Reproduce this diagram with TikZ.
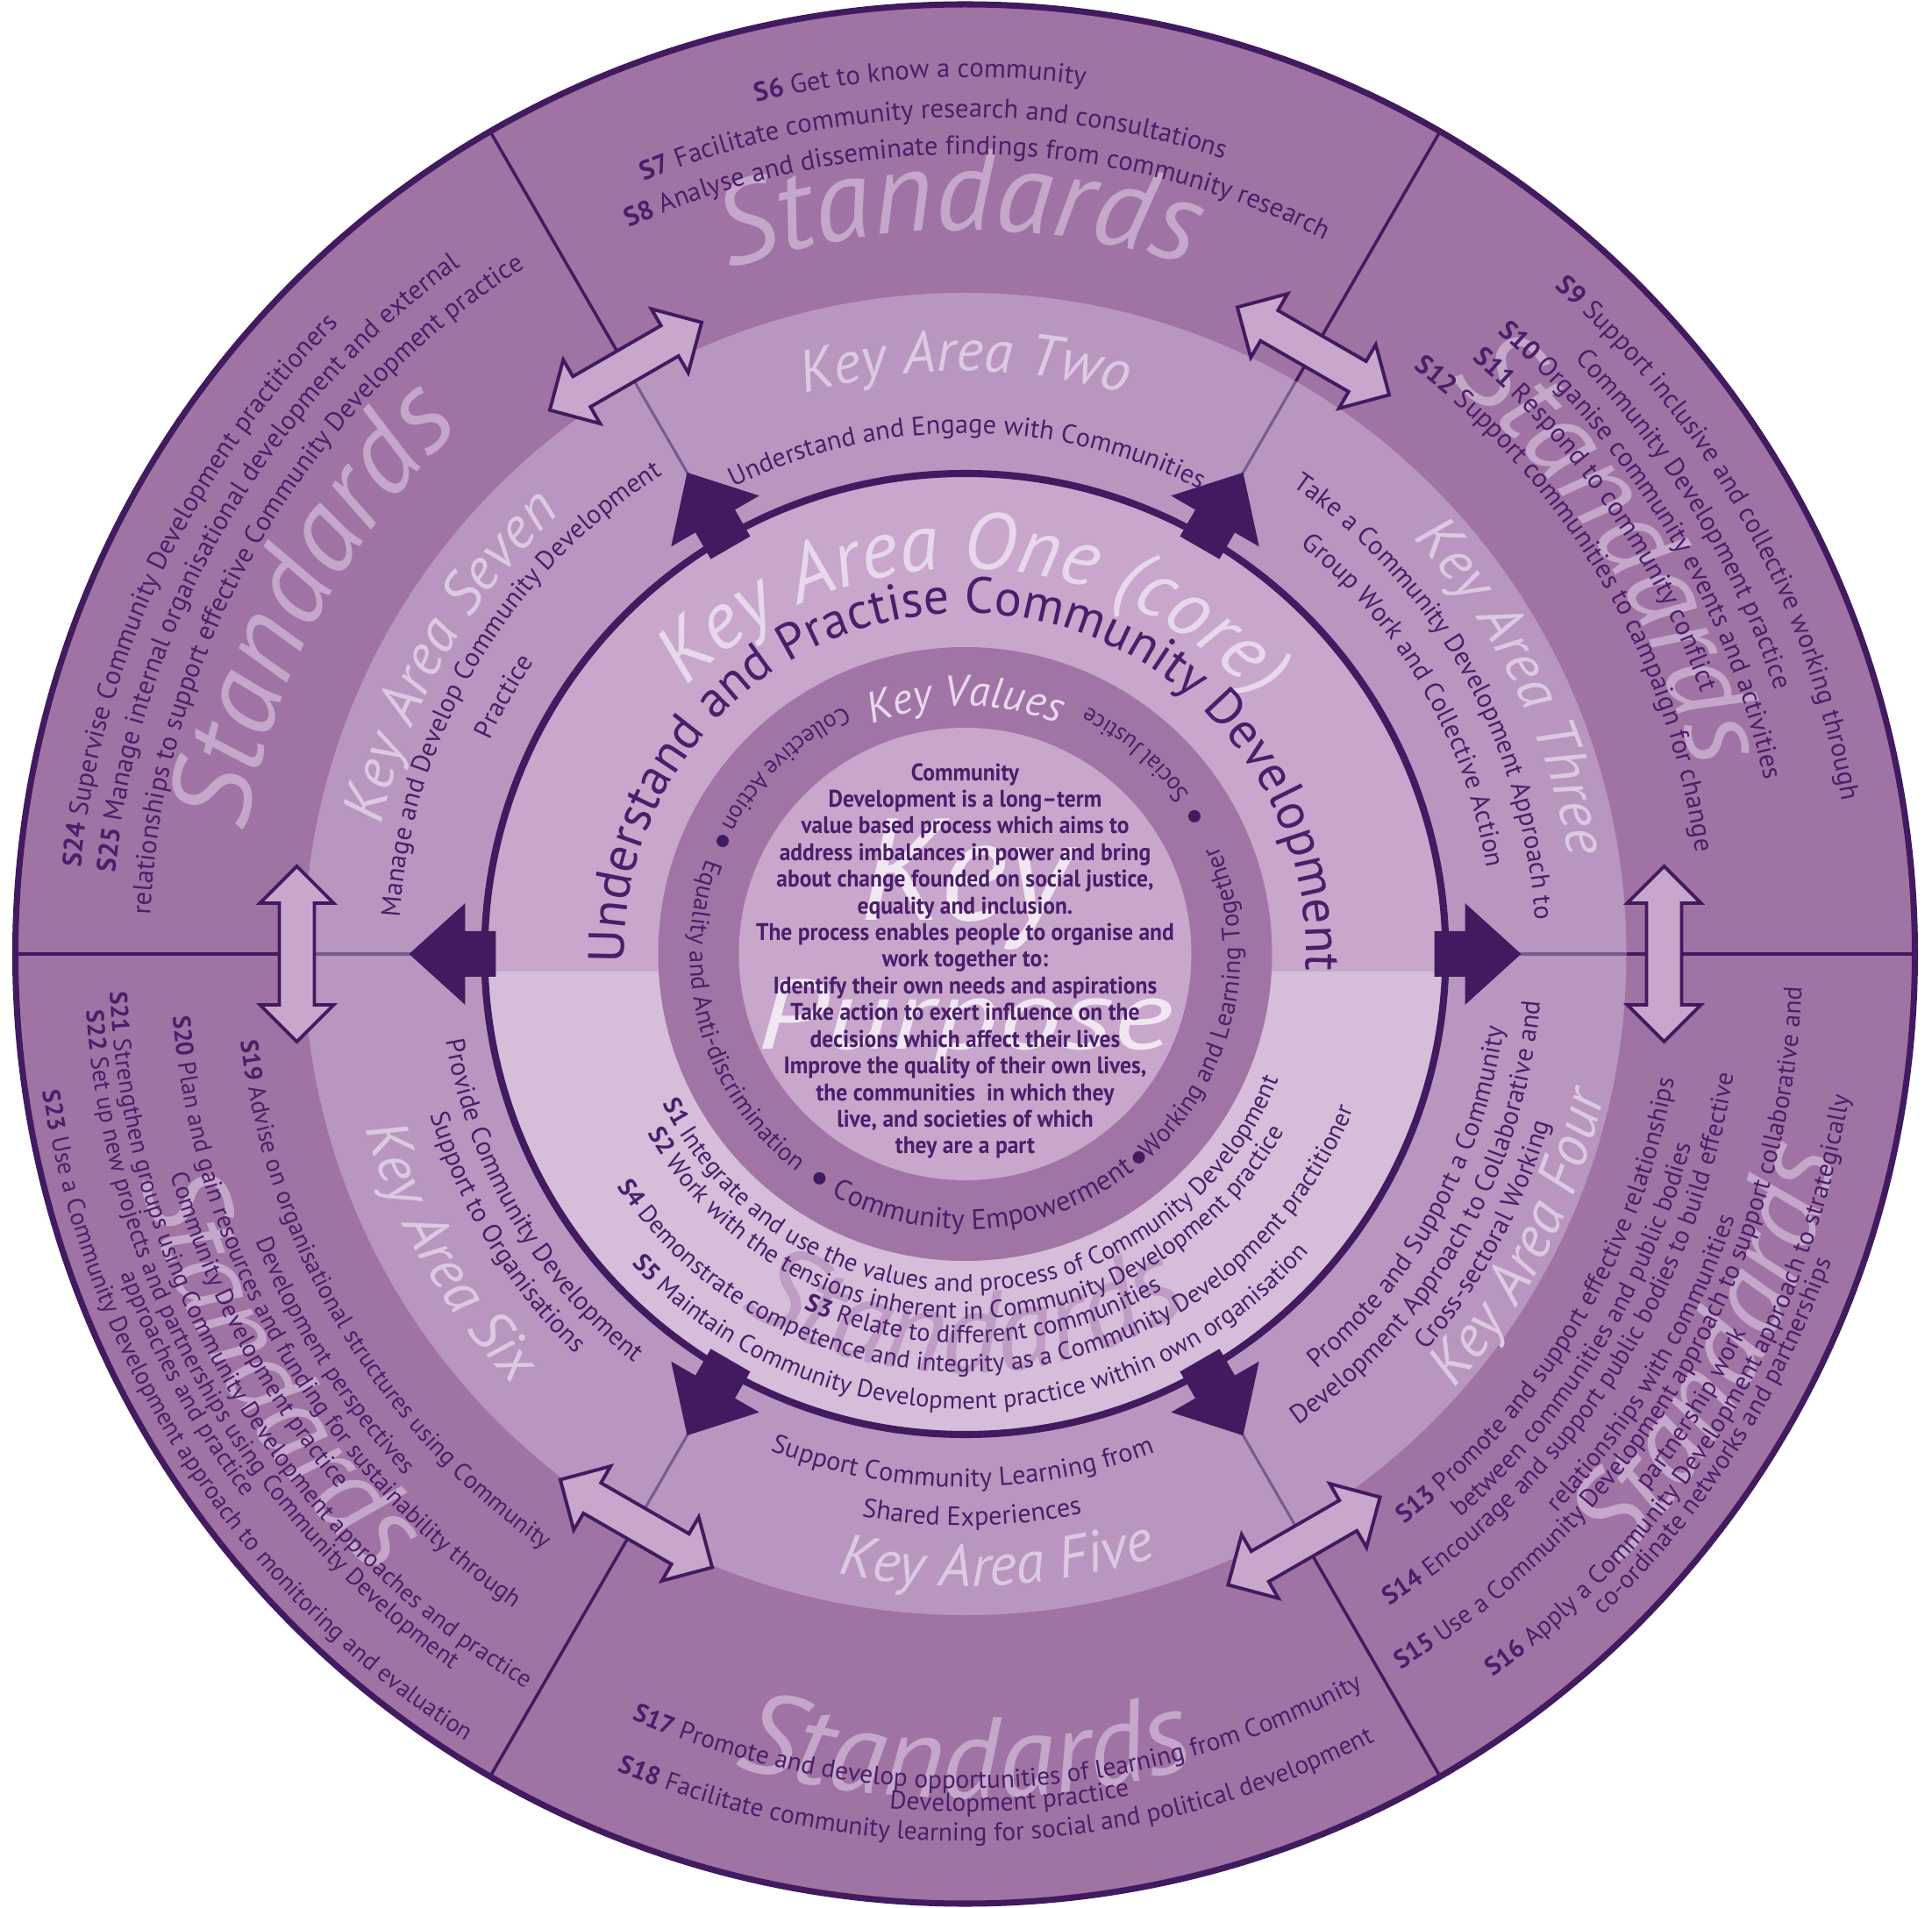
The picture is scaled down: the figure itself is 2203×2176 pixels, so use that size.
\documentclass[tikz,border=0pt]{standalone}
\usepackage{fontspec}
\usepackage{graphicx}
\setmainfont{PT Sans}
\newfontfamily\condfont[FakeStretch=0.93]{PT Sans}
\usetikzlibrary{decorations.text}
\definecolor{ringS}{HTML}{9F73A3}
\definecolor{ringK}{HTML}{B996BF}
\definecolor{coreT}{HTML}{C9A6CC}
\definecolor{coreB}{HTML}{D6BDD9}
\definecolor{ringV}{HTML}{A075A5}
\definecolor{dark}{HTML}{421A60}
\definecolor{txt}{HTML}{4A1E6A}
\definecolor{wmS}{HTML}{C4A7CA}
\definecolor{wmK}{HTML}{DCC9E2}
\definecolor{wmOne}{HTML}{E7D8EB}
\definecolor{wmP}{HTML}{F0E7F2}
\definecolor{wmIn}{HTML}{BE9CC4}
\definecolor{kline}{HTML}{7B5B8F}
\definecolor{dbl}{HTML}{C9A6CC}
\newcommand\fsz[1]{\fontsize{#1}{#1}\selectfont}
% top, top-left, top-right standards
\newcommand\stdR{\fsz{8.7}\color{txt}}
\newcommand\stdB{\fsz{8.7}\bfseries\color{txt}}
% bottom and bottom-right standards
\newcommand\sbR{\fsz{8.35}\color{txt}}
\newcommand\sbB{\fsz{8.35}\bfseries\color{txt}}
% bottom-left standards
\newcommand\slR{\fsz{8.0}\color{txt}}
\newcommand\slB{\fsz{8.0}\bfseries\color{txt}}
% inner standards
\newcommand\inR{\fsz{8.1}\color{txt}}
\newcommand\inB{\fsz{8.1}\bfseries\color{txt}}
\newcommand\kdesc{\fsz{8.6}\color{txt}}
\newcommand\kval{\fsz{8.2}\color{txt}}
\newcommand\kvalS{\fsz{7.8}\color{txt}}
\newcommand\kvalL{\fsz{9.2}\color{txt}}
\newcommand\wmStd{\fsz{37.5}\itshape\color{wmS}}
\newcommand\wmKey{\fsz{19}\itshape\color{wmK}}
% clockwise arc (upper half, letters outward), centred
\newcommand\cwc[4]{\path[decorate,decoration={text along path,text align=center,text={|#3|#4}}] ({#2+100}:#1) arc[start angle={#2+100},end angle={#2-100},radius=#1];}
% counter-clockwise arc (lower half, letters inward), centred
\newcommand\ccwc[4]{\path[decorate,decoration={text along path,text align=center,text={|#3|#4}}] ({#2-100}:#1) arc[start angle={#2-100},end angle={#2+100},radius=#1];}
% text centred between a start and an end angle (direction from start to end)
\newcommand\fitarc[5]{%
  \pgfmathsetmacro\fcen{(#2+#3)/2}%
  \pgfmathsetmacro\fdir{(#3>#2)*2-1}%
  \path[decorate,decoration={text along path,text align=center,text={|#4|#5}}] ({\fcen-100*\fdir}:#1) arc[start angle={\fcen-100*\fdir},end angle={\fcen+100*\fdir},radius=#1];}
\begin{document}
\begin{tikzpicture}[x=0.01cm,y=0.01cm]
\fill[white] (-1100.5,-1088) rectangle (1102.5,1088);
\useasboundingbox (-1100.5,-1088) rectangle (1102.5,1088);
% rings
\fill[ringS] (0,0) circle[radius=1083];
\fill[ringK] (0,0) circle[radius=754];
\begin{scope}
\clip (0,0) circle[radius=548];
\fill[coreT] (-560,-20) rectangle (560,560);
\fill[coreB] (-560,-20) rectangle (560,-560);
\end{scope}
\fill[ringV] (0,0) circle[radius=350];
\fill[coreT] (0,0) circle[radius=258];
% sector lines
\foreach \a in {0,60,...,300}{
  \draw[dark,line width=1pt] (\a:754) -- (\a:1083);
  \draw[kline,line width=0.9pt] (\a:548) -- (\a:754);
}
% Standards watermarks
\cwc{826}{90.5}{\wmStd}{Standards}
\cwc{858}{32}{\wmStd}{Standards}
\cwc{832}{152}{\wmStd}{Standards}
\ccwc{1020}{-28}{\wmStd}{Standards}
\ccwc{963}{270}{\wmStd}{Standards}
\ccwc{975}{211}{\wmStd}{Standards}
\ccwc{478}{270}{\fsz{38}\itshape\color{wmIn}}{Standards}
% Key area watermarks
\cwc{665}{90}{\wmKey}{Key Area Two}
\cwc{697}{26}{\wmKey}{Key Area Three}
\ccwc{746}{-27}{\wmKey}{Key Area Four}
\ccwc{721}{273}{\wmKey}{Key Area Five}
\ccwc{712}{210}{\wmKey}{Key Area Six}
\cwc{682}{150}{\wmKey}{Key Area Seven}
% Key area descriptions
\fitarc{594}{116}{63.5}{\kdesc}{Understand and Engage with Communities}
\fitarc{651}{56.5}{2}{\kdesc}{Take a Community Development Approach to}
\fitarc{603}{52}{8}{\kdesc}{Group Work and Collective Action}
\fitarc{620}{-52}{-5.5}{\kdesc}{Promote and Support a Community}
\fitarc{658}{-57}{-2.5}{\kdesc}{Development Approach to Collaborative and}
\fitarc{694}{-41.8}{-15}{\kdesc}{Cross-sectoral Working}
\fitarc{608}{248.5}{291}{\kdesc}{Support Community Learning from}
\ccwc{652}{270.7}{\kdesc}{Shared Experiences}
\fitarc{600}{188}{232.5}{\kdesc}{Provide Community Development}
\fitarc{637}{196.5}{226}{\kdesc}{Support to Organisations}
\fitarc{646}{178}{120.5}{\kdesc}{Manage and Develop Community Development}
\cwc{594}{150.8}{\kdesc}{Practice}
% Standards: top
\fitarc{1000}{104.6}{81.3}{\stdB}{S6 |\stdR|Get to know a community}
\fitarc{954}{113.3}{71.2}{\stdB}{S7 |\stdR|Facilitate community research and consultations}
\fitarc{912}{115.7}{62.4}{\stdB}{S8 |\stdR|Analyse and disseminate findings from community research}
% top right
\fitarc{1015}{49.6}{8.8}{\stdB}{S9 |\stdR|Support inclusive and collective working through}
\fitarc{971}{45}{17.3}{\stdR}{Community Development practice}
\fitarc{933}{49.8}{11.9}{\stdB}{S10 |\stdR|Organise community events and activities}
\fitarc{891}{49.7}{19.4}{\stdB}{S11 |\stdR|Respond to community conflict}
\fitarc{841}{53.2}{7.3}{\stdB}{S12 |\stdR|Support communities to campaign for change}
% bottom right
\fitarc{821}{-52.1}{-10.3}{\sbB}{S13 |\sbR|Promote and support effective relationships}
\fitarc{856}{-49}{-14.4}{\sbR}{between communities and public bodies}
\fitarc{887}{-56.7}{-9.1}{\sbB}{S14 |\sbR|Encourage and support public bodies to build effective}
\fitarc{928}{-43.2}{-19.1}{\sbR}{relationships with communities}
\fitarc{955}{-59.3}{-1.7}{\sbB}{S15 |\sbR|Use a Community Development approach to support collaborative and}
\ccwc{990}{-32}{\sbR}{partnership work}
\fitarc{1021}{-56.8}{-6.2}{\sbB}{S16 |\sbR|Apply a Community Development approach to strategically}
\fitarc{1048}{-46.4}{-19.2}{\sbR}{co-ordinate networks and partnerships}
% bottom
\fitarc{952}{246.4}{298.5}{\sbB}{S17 |\sbR|Promote and develop opportunities of learning from Community}
\ccwc{978}{273}{\sbR}{Development practice}
\fitarc{1012}{247.2}{297.2}{\sbB}{S18 |\sbR|Facilitate community learning for social and political development}
% bottom left
\fitarc{832}{186.6}{235}{\slB}{S19 |\slR|Advise on organisational structures using Community}
\ccwc{873}{212.5}{\slR}{Development perspectives}
\fitarc{906}{184.2}{235.7}{\slB}{S20 |\slR|Plan and gain resources and funding for sustainability through}
\ccwc{940}{208}{\slR}{Community Development practice}
\fitarc{976}{182.2}{239.5}{\slB}{S21 |\slR|Strengthen groups using Community Development approaches and practice}
\fitarc{1004}{183.7}{234.3}{\slB}{S22 |\slR|Set up new projects and partnerships using Community Development}
\ccwc{1030}{208.9}{\slR}{approaches and practice}
\fitarc{1063}{188.4}{237.7}{\slB}{S23 |\slR|Use a Community Development approach to monitoring and evaluation}
% top left
\fitarc{1013}{175.2}{134.1}{\stdB}{S24 |\stdR|Supervise Community Development practitioners}
\fitarc{973}{175}{125.8}{\stdB}{S25 |\stdR|Manage internal organisational development and external}
\fitarc{930}{178.5}{121.4}{\stdR}{relationships to support effective Community Development practice}
% core
\cwc{440}{88.6}{\fsz{26}\itshape\color{wmOne}}{Key Area One (core)}
\cwc{389}{89.3}{\fsz{16.5}\color{txt}}{Understand and Practise Community Development}
\fitarc{385}{207}{337.5}{\inB}{S1 |\inR|Integrate and use the values and process of Community Development}
\fitarc{416}{204}{336.5}{\inB}{S2 |\inR|Work with the tensions inherent in Community Development practice}
\fitarc{444}{245.5}{300.5}{\inB}{S3 |\inR|Relate to different communities}
\fitarc{477}{213.5}{338.5}{\inB}{S4 |\inR|Demonstrate competence and integrity as a Community Development practitioner}
\fitarc{519}{222.5}{319.5}{\inB}{S5 |\inR|Maintain Community Development practice within own organisation}
% key values ring
\cwc{283}{90}{\fsz{14}\itshape\color{wmOne}}{Key Values}
\ccwc{314}{134}{\kvalS}{Collective Action}
\ccwc{314}{196}{\kval}{Equality and Anti-discrimination}
\ccwc{314}{274.5}{\kvalL}{Community Empowerment}
\ccwc{314}{-12.5}{\kval}{Working and Learning Together}
\ccwc{314}{49.5}{\kvalS}{Social Justice}
\foreach \a in {155,237,310.5,31}{\fill[dark] (\a:305) circle[radius=7];}
% key purpose
\node[anchor=base,text=wmP,font=\fontsize{47}{47}\selectfont\itshape,inner sep=0] (keyw) at (0,38) {Key};
\node[anchor=base,text=wmP,font=\fontsize{32}{32}\selectfont\itshape,inner sep=0] (purw) at (0,-109) {\scalebox{1.3}[1]{Purpose}};
\node[align=center,text=txt,font=\condfont\bfseries\fontsize{7.8}{8.65}\selectfont,inner sep=0] (purpose) at (0,-8) {Community\\
Development is a long–term\\
value based process which aims to\\
address imbalances in power and bring\\
about change founded on social justice,\\
equality and inclusion.\\
The process enables people to organise and\\
work together to:\\
Identify their own needs and aspirations\\
Take action to exert influence on the\\
decisions which affect their lives\\
Improve the quality of their own lives,\\
the communities\ \ in which they\\
live, and societies of which\\
they are a part};
% outlines
\draw[dark,line width=2pt] (0,0) circle[radius=1083];
\draw[dark,line width=2.3pt] (0,0) circle[radius=548];
% dark arrows
\foreach \a in {0,60,...,300}{
  \fill[dark,rotate=\a] (535,26) -- (570,26) -- (570,58) -- (634,0) -- (570,-58) -- (570,-26) -- (535,-26) -- cycle;
}
% double arrows
\foreach \a/\r in {0/797,60/794,120/774,180/762,240/750,300/773}{
  \draw[draw=dark,fill=dbl,line width=1.1pt,line join=miter,shift={(\a:\r)},rotate=\a+90]
    (-100,0) -- (-58,42) -- (-58,20) -- (58,20) -- (58,42) -- (100,0) -- (58,-42) -- (58,-20) -- (-58,-20) -- (-58,-42) -- cycle;
}
\end{tikzpicture}
\end{document}
